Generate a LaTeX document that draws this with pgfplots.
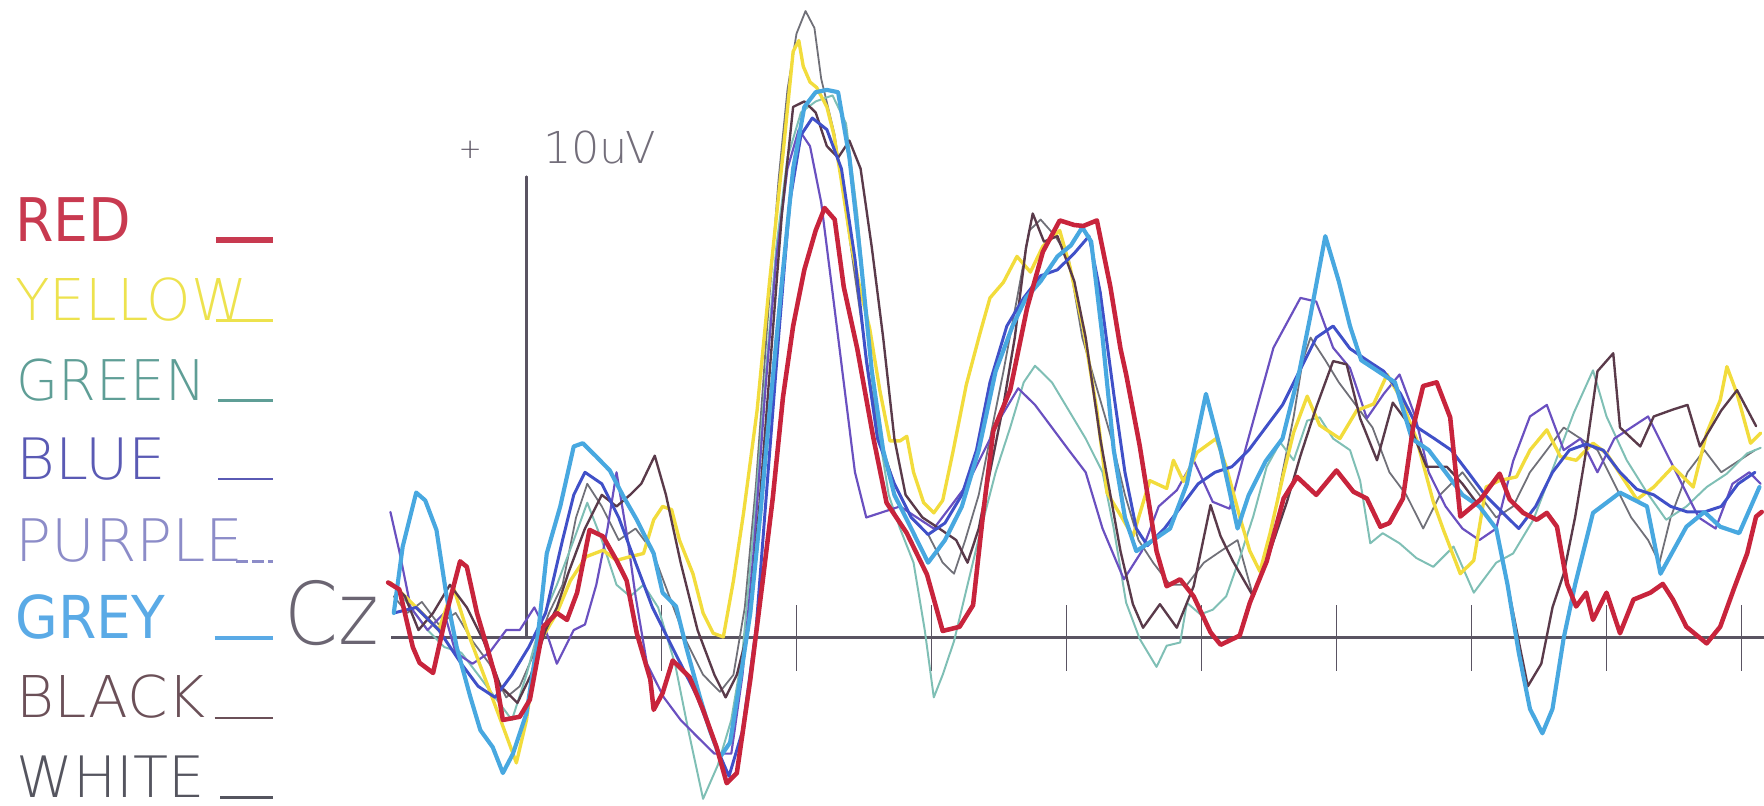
\documentclass[border=0pt]{standalone}
\usepackage{fontspec}
\usepackage{graphicx}
\usepackage{pgfplots}
\usepackage{pgfplotstable}
\pgfplotsset{compat=1.18}

\newfontfamily\thinfont{DejaVu Sans ExtraLight}
\newfontfamily\regfont{DejaVu Sans}

% trace colours
\definecolor{cRed}{HTML}{C8243C}
\definecolor{cYellow}{HTML}{F2DC3C}
\definecolor{cGreen}{HTML}{7FBFB5}
\definecolor{cBlue}{HTML}{4050C8}
\definecolor{cPurple}{HTML}{6A50C0}
\definecolor{cGrey}{HTML}{48A8E0}
\definecolor{cBlack}{HTML}{5A3A4A}
\definecolor{cWhite}{HTML}{707078}
% legend text colours
\definecolor{tRed}{HTML}{C83A50}
\definecolor{tYellow}{HTML}{EDE24E}
\definecolor{tGreen}{HTML}{5F9E96}
\definecolor{tBlue}{HTML}{5A5AB4}
\definecolor{tPurple}{HTML}{8C8CC8}
\definecolor{tGrey}{HTML}{5AAAE6}
\definecolor{tBlack}{HTML}{6B5058}
\definecolor{tWhite}{HTML}{55555F}
\definecolor{axisgrey}{HTML}{5A5462}

% Cz averages: time (ms) versus amplitude (uV)
\pgfplotstableread{
x y
-102.5 1.20
-94.2 1.05
-84.2 -0.20
-79.2 -0.54
-69.2 -0.76
-59.2 0.54
-49.2 1.66
-44.2 1.54
-36.7 0.54
-29.2 -0.20
-22.5 -0.90
-17.5 -1.78
-5 -1.71
2.5 -1.34
7.5 -0.54
12.5 0.24
22.5 0.54
30 0.39
37.5 0.98
46.7 2.34
56.7 2.20
66.7 1.68
74.2 1.24
81.7 0.10
91.7 -0.90
94.2 -1.56
100.8 -1.20
108.3 -0.49
120.8 -0.85
130.8 -1.56
140.8 -2.37
148.3 -3.15
155.8 -2.93
165.8 -0.90
175 1.24
182.5 3.05
190 5.22
197.5 6.76
205.8 7.98
214.2 8.83
220.8 9.32
228.3 9.07
235 7.61
245 6.27
256.7 4.37
266.7 2.93
281.7 2.27
296.7 1.37
308.3 0.15
320.8 0.24
330.8 0.71
338.3 2.71
345.8 4.49
358.3 5.37
370.8 7.15
382.5 8.37
395 9.05
405.8 8.95
412.5 8.93
422.5 9.05
432.5 7.61
440 6.27
444.2 5.71
454.2 4.17
466.7 1.88
474.2 1.12
484.2 1.27
494.2 0.90
506.7 0.12
514.2 -0.15
528.3 0.05
535.8 0.76
548.3 1.66
560.8 3.02
570.8 3.49
585 3.10
600 3.63
612.5 3.17
622.5 3.02
632.5 2.41
639.2 2.49
649.2 3.02
656.7 4.56
664.2 5.46
674.2 5.54
684.2 4.78
691.7 2.63
706.7 3.00
720.8 3.56
728.3 3.00
738.3 2.71
748.3 2.56
755.8 2.71
763.3 2.41
770.8 1.17
777.5 0.68
785 0.98
790 0.39
800 0.98
810 0.10
820 0.83
832.5 0.98
841.7 1.17
849.2 0.83
859.2 0.24
874.2 -0.12
884.2 0.24
894.2 1.05
904.2 1.83
910.8 2.63
915 2.73
}\redtab

\pgfplotstableread{
x y
-100.8 1.20
-90 0.90
-77.5 0.54
-65 0.17
-54.2 1.10
-44.2 0.17
-31.7 -0.80
-19.2 -1.78
-7.5 -2.71
0 -1.78
7.5 -0.20
22.5 0.54
32.5 1.24
44.2 1.76
56.7 1.90
66.7 1.68
76.7 1.76
86.7 1.83
94.2 2.56
100.8 2.85
107.5 2.78
113.3 2.12
123.3 1.39
130.8 0.54
138.3 0.10
145.8 0.02
153.3 1.24
160.8 2.71
170.8 4.93
180 7.71
190 10.49
197.5 12.71
201.7 12.95
205 12.39
210 12.05
215 11.93
222.5 11.51
227.5 10.93
232.5 10.05
240 8.61
246.7 7.61
254.2 6.71
261.7 5.37
269.2 4.27
276.7 4.27
281.7 4.37
286.7 3.59
294.2 2.93
301.7 2.71
308.3 2.98
315.8 4.02
325.8 5.49
335.8 6.59
343.3 7.37
353.3 7.71
363.3 8.27
373.3 7.93
382.5 8.49
395 8.83
402.5 8.05
412.5 6.71
422.5 4.93
430 3.15
440 2.66
449.2 2.20
461.7 3.41
474.2 3.24
479.2 3.85
486.7 3.39
496.7 4.02
510.8 4.32
518.3 3.71
528.3 2.63
535.8 1.88
543.3 1.44
550.8 2.27
560.8 3.56
568.3 4.46
578.3 5.24
587.5 4.61
602.5 4.32
615 4.93
627.5 5.07
637.5 5.71
646.7 5.24
659.2 4.32
671.7 2.95
679.2 2.34
691.7 1.39
701.7 1.68
710.8 3.27
720.8 3.41
733.3 3.49
743.3 4.07
755.8 4.51
765.8 3.93
777.5 3.85
790 4.22
800 4.00
810 3.56
822.5 3.00
835 3.27
849.2 3.71
864.2 3.27
874.2 4.44
884.2 5.15
889.2 5.88
896.7 5.29
906.7 4.22
914.2 4.44
}\yellowtab

\pgfplotstableread{
x y
-98.3 1.15
-85.8 0.66
-73.3 0.17
-60.8 -0.20
-48.3 -0.32
-35.8 -0.80
-23.3 -1.29
-10.8 -1.78
0 -0.80
10 0.29
22.5 1.15
35 2.12
45 2.93
55.8 2.12
66.7 1.15
76.7 0.90
86.7 1.15
97.5 0.66
110 -0.56
120 -2.02
130.8 -3.49
141.7 -2.76
151.7 -1.78
160 -0.32
168.3 2.37
176.7 5.54
185 8.46
193.3 10.41
203.3 11.39
214.2 11.63
226.7 11.76
236.7 11.15
245 9.20
253.3 6.51
261.7 4.32
268.3 3.10
276.7 2.37
286.7 1.63
295 0.17
301.7 -1.29
308.3 -0.80
316.7 -0.07
326.7 1.15
336.7 2.37
347.5 3.59
358.3 4.56
368.3 5.54
376.7 5.90
389.2 5.54
401.7 4.93
414.2 4.32
426.7 3.59
435 2.37
444.2 0.76
454.2 -0.02
466.7 -0.63
474.2 -0.17
484.2 -0.10
489.2 0.76
499.2 0.51
508.3 0.61
518.3 0.90
528.3 1.73
538.3 2.63
548.3 3.71
558.3 4.24
568.3 3.85
578.3 4.71
587.5 4.78
597.5 4.32
610 4.07
617.5 3.41
625 2.05
634.2 2.27
646.7 2.05
659.2 1.73
671.7 1.54
686.7 1.98
701.7 0.98
718.3 1.63
730.8 1.83
745.8 2.56
760.8 3.71
775.8 4.88
790 5.80
800 4.80
815 3.85
830 3.15
844.2 2.56
859.2 2.85
874.2 3.27
889.2 3.56
904.2 4.00
914.2 4.12
}\greentab

\pgfplotstableread{
x y
-98.3 0.54
-81.7 0.66
-65 0.17
-48.3 -0.56
-35.8 -1.05
-23.3 -1.29
-10.8 -0.80
1.7 -0.20
14.2 0.54
26.7 2.12
35 3.10
43.3 3.59
55.8 3.34
68.3 2.61
80.8 1.63
93.3 0.66
110 -0.32
126.7 -1.29
139.2 -2.27
150 -3.00
160 -2.02
170 0.17
178.3 3.34
186.7 6.51
195 9.44
203.3 10.90
211.7 11.27
222.5 11.02
233.3 10.17
243.3 8.22
251.7 6.02
260 4.32
272.5 3.34
285 2.61
297.5 2.24
310 2.49
322.5 3.10
333.3 4.07
343.3 5.54
355.8 6.76
368.3 7.37
380.8 7.85
393.3 7.98
405.8 8.34
416.7 8.71
425 7.49
435 5.29
443.3 3.59
451.7 2.37
460 2.00
472.5 2.37
485 2.85
497.5 3.34
510 3.59
522.5 3.71
535 4.07
547.5 4.56
560 5.05
572.5 5.78
585 6.51
597.5 6.76
610 6.27
622.5 6.02
635 5.78
647.5 5.29
660 4.56
672.5 4.32
685 4.07
697.5 3.59
710 3.10
722.5 2.73
735 2.37
747.5 2.85
760 3.59
772.5 4.07
785 4.20
797.5 4.07
810 3.59
822.5 3.22
835 3.10
847.5 2.85
860 2.73
872.5 2.73
885 2.85
897.5 3.34
910 3.59
}\bluetab

\pgfplotstableread{
x y
-100.8 2.73
-94.2 1.88
-85.8 0.66
-73.3 0.17
-60.8 0.54
-52.5 -0.32
-40 -0.56
-27.5 -0.32
-15 0.17
-5 0.17
5.8 0.66
14.2 0.17
22.5 -0.56
35 0.17
43.3 0.29
51.7 1.15
60 2.37
66.7 3.59
75 2.12
80.8 0.90
89.2 -0.56
101.7 -1.29
114.2 -1.78
126.7 -2.15
139.2 -2.51
151.7 -2.51
160 -0.80
168.3 1.88
176.7 5.29
185 8.22
193.3 10.17
201.7 11.02
210 10.66
218.3 9.44
226.7 7.49
235 5.54
243.3 3.59
251.7 2.61
264.2 2.73
276.7 2.85
289.2 2.61
301.7 2.37
314.2 2.85
326.7 3.34
339.2 4.07
351.7 4.80
364.2 5.41
376.7 5.05
389.2 4.56
401.7 4.07
414.2 3.59
426.7 2.37
442.5 1.27
455.8 1.88
468.3 2.85
481.7 3.20
494.2 3.85
508.3 2.95
520.8 2.80
533.3 4.17
553.3 6.29
573.3 7.37
585 7.29
597.5 6.29
610 5.85
622.5 4.76
635 5.29
646.7 5.71
658.3 4.80
668.3 3.59
680.8 2.85
693.3 2.37
705.8 2.12
718.3 2.37
730.8 3.83
743.3 4.80
755.8 5.05
768.3 4.07
780.8 4.32
793.3 3.59
805.8 4.32
818.3 4.56
830.8 4.80
843.3 4.07
855.8 3.34
868.3 2.61
880.8 2.37
893.3 3.34
905.8 3.59
914.2 3.34
}\purpletab

\pgfplotstableread{
x y
-98.3 0.54
-91.7 1.98
-81.7 3.15
-75 2.98
-66.7 2.34
-59.2 0.90
-51.7 -0.20
-41.7 -1.27
-34.2 -2.00
-25 -2.37
-17.5 -2.93
-10 -2.51
0 -1.63
7.5 -0.20
15 1.83
25 2.85
35 4.15
41.7 4.22
51.7 3.93
61.7 3.63
71.7 3.07
81.7 2.56
94.2 1.83
100.8 0.98
110.8 0.68
118.3 -0.20
128.3 -1.27
135.8 -2.00
143.3 -2.59
150.8 -2.27
158.3 -0.90
165.8 0.54
173.3 2.71
180 4.88
189.2 7.73
197.5 10.17
205.8 11.51
214.2 11.83
222.5 11.88
230.8 11.83
239.2 10.41
247.5 8.22
255.8 5.78
264.2 4.07
272.5 3.10
285 2.37
297.5 1.63
310 2.12
322.5 2.85
335 4.07
347.5 5.78
360 6.76
370 7.37
380.8 7.73
393.3 8.27
403.3 8.51
411.7 8.90
418.3 8.59
426.7 6.51
435 4.07
443.3 2.61
451.7 1.88
464.2 2.12
476.7 2.37
489.2 3.34
503.3 5.29
514.2 4.07
526.7 2.37
535 3.10
547.5 3.83
560 4.32
572.5 5.78
580.8 7.00
591.7 8.71
601.7 7.73
610 6.76
618.3 6.02
630.8 5.78
643.3 5.54
655.8 4.32
668.3 4.07
680.8 3.59
693.3 3.10
705.8 2.85
718.3 2.37
726.7 1.15
735 -0.32
743.3 -1.54
752.5 -2.07
760 -1.54
768.3 0
776.7 1.15
790 2.71
810 3.15
830 2.85
840 1.39
859.2 2.41
872.5 2.73
884.2 2.41
898.3 2.27
913.3 3.27
}\greytab

\pgfplotstableread{
x y
-98.3 1.15
-90 0.90
-80 0.17
-69.2 0.54
-56.7 1.15
-44.2 0.66
-31.7 -0.07
-19.2 -1.05
-6.7 -1.41
3.3 -0.80
14.2 0.17
22.5 0.66
30.8 1.39
43.3 2.37
55.8 3.10
66.7 2.85
76.7 3.10
85 3.34
95 3.95
103.3 3.10
114.2 1.63
126.7 0.17
139.2 -0.80
147.5 -1.29
155.8 -0.80
164.2 0.17
172.5 2.85
180.8 6.02
189.2 9.20
197.5 11.51
205.8 11.63
214.2 11.39
222.5 10.66
230.8 10.41
239.2 10.78
247.5 10.17
255.8 8.46
264.2 6.51
272.5 4.32
280.8 3.10
293.3 2.61
305.8 2.37
318.3 2.12
326.7 1.63
335 2.37
343.3 3.59
353.3 5.05
361.7 6.51
370 8.46
375 9.20
383.3 8.59
393.3 8.71
405.8 7.73
414.2 6.51
425 4.32
440 1.88
449.2 0.73
456.7 0.22
469.2 0.73
481.7 0.22
494.2 1.12
506.7 2.88
514.2 2.20
523.3 1.66
538.3 0.90
550.8 1.88
563.3 2.95
573.3 3.95
585 5.00
597.5 6.00
607.5 5.93
617.5 4.76
630 3.85
641.7 5.10
654.2 4.61
666.7 3.71
681.7 3.71
693.3 3.34
705.8 2.85
718.3 2.37
726.7 1.15
735 -0.07
741.7 -1.05
751.7 -0.56
760 0.66
768.3 1.39
776.7 2.61
785 4.07
793.3 5.78
805 6.17
810 4.56
825 4.15
835 4.80
849.2 4.95
860 5.05
869.2 4.15
885 4.93
896.7 5.37
910.8 4.59
}\blacktab

\pgfplotstableread{
x y
-98.3 0.90
-88.3 0.54
-77.5 0.78
-65 0.29
-52.5 0.54
-40 -0.07
-27.5 -0.56
-15 -1.29
-5 -1.05
5.8 -0.32
16.7 0.54
26.7 1.15
36.7 2.61
45 3.34
55.8 2.85
68.3 2.12
80.8 2.37
93.3 1.88
105.8 0.90
118.3 -0.07
130.8 -0.80
143.3 -1.17
153.3 -0.80
161.7 0.66
170 3.34
178.3 6.76
186.7 9.93
193.3 11.88
200 13.10
206.7 13.59
213.3 13.22
218.3 12.12
228.3 10.90
236.7 9.20
245 7.49
253.3 5.78
261.7 4.32
272.5 3.34
285 2.61
297.5 2.24
308.3 1.63
316.7 1.39
325 2.12
335 3.10
343.3 4.32
353.3 5.78
364.2 7.49
372.5 8.83
380.8 9.07
391.7 8.71
401.7 8.22
411.7 6.51
422.5 5.41
433.3 4.32
443.3 3.10
453.3 2.12
464.2 1.63
476.7 1.15
489.2 1.15
501.7 1.63
514.2 1.88
526.7 2.12
538.3 0.90
547.5 1.63
560 3.59
568.3 4.80
575 6.02
580.8 6.51
591.7 6.02
601.7 5.54
614.2 5.05
626.7 4.56
639.2 3.59
651.7 3.10
664.2 2.37
676.7 3.10
693.3 3.59
705.8 3.10
718.3 2.61
730.8 2.85
743.3 3.59
755.8 4.07
768.3 4.56
780.8 4.32
793.3 4.07
805.8 3.34
818.3 2.61
830.8 2.12
839.2 1.63
847.5 2.61
860 3.59
872.5 4.07
885 3.59
897.5 3.83
910 4.07
}\whitetab

\begin{document}
\begin{tikzpicture}
\begin{axis}[
  scale only axis, width=12.20cm, height=7.16cm,
  xmin=-100, xmax=916.67, ymin=-3.634, ymax=13.829,
  axis x line=middle, axis y line=none,
  axis line style={draw=axisgrey, line width=0.7pt, -},
  xtick={100,200,...,900}, xticklabels={}, ytick=\empty,
  tick align=center, major tick length=0.58cm,
  xtick style={draw=axisgrey, line width=0.45pt},
  clip=false,
  every axis plot/.append style={line join=round, line cap=round},
]
% calibration bar: 10 uV at stimulus onset
\addplot[draw=axisgrey, line width=0.6pt] coordinates {(0,0) (0,10)};
\node[text=axisgrey, inner sep=0pt] at (axis cs:-41.7,10.58) {\thinfont\fontsize{7}{7}\selectfont +};
\node[anchor=base west, inner sep=0pt, text=axisgrey!85] at (axis cs:11.7,10.29)
  {\resizebox{10mm}{2.9mm}{\thinfont 10uV}};

% averaged waveforms
\addplot[draw=cWhite, line width=0.45pt] table[x=x, y=y] {\whitetab};
\addplot[draw=cGreen, line width=0.5pt] table[x=x, y=y] {\greentab};
\addplot[draw=cPurple, line width=0.55pt] table[x=x, y=y] {\purpletab};
\addplot[draw=cYellow, line width=0.85pt] table[x=x, y=y] {\yellowtab};
\addplot[draw=cBlack, line width=0.6pt] table[x=x, y=y] {\blacktab};
\addplot[draw=cBlue, line width=0.75pt] table[x=x, y=y] {\bluetab};
\addplot[draw=cGrey, line width=1.05pt] table[x=x, y=y] {\greytab};
\addplot[draw=cRed, line width=1.15pt] table[x=x, y=y] {\redtab};

% electrode name
\node[anchor=base west, inner sep=0pt, text=axisgrey!90] at (axis cs:-180,-0.15)
  {\resizebox{8.4mm}{5.7mm}{\thinfont Cz}};

% colour key
\node[anchor=base west, inner sep=0pt, text=tRed] at (axis cs:-379.2,8.585)
  {\resizebox{10.3mm}{3.9mm}{\regfont RED}};
\node[anchor=base west, inner sep=0pt, text=tYellow] at (axis cs:-379.2,6.878)
  {\resizebox{20.6mm}{3.8mm}{\thinfont YELLOW}};
\node[anchor=base west, inner sep=0pt, text=tGreen] at (axis cs:-378.3,5.146)
  {\resizebox{16.8mm}{3.7mm}{\thinfont GREEN}};
\node[anchor=base west, inner sep=0pt, text=tBlue] at (axis cs:-378.3,3.439)
  {\resizebox{13.3mm}{3.7mm}{\thinfont BLUE}};
\node[anchor=base west, inner sep=0pt, text=tPurple] at (axis cs:-379.2,1.659)
  {\resizebox{20.3mm}{3.8mm}{\thinfont PURPLE}};
\node[anchor=base west, inner sep=0pt, text=tGrey] at (axis cs:-379.2,-0.024)
  {\resizebox{13.3mm}{3.9mm}{\regfont GREY}};
\node[anchor=base west, inner sep=0pt, text=tBlack] at (axis cs:-378.3,-1.732)
  {\resizebox{16.8mm}{3.8mm}{\thinfont BLACK}};
\node[anchor=base west, inner sep=0pt, text=tWhite] at (axis cs:-378.3,-3.463)
  {\resizebox{16.7mm}{3.7mm}{\thinfont WHITE}};

\draw[tRed, line width=1.4pt] (axis cs:-230,8.63) -- (axis cs:-187.5,8.63);
\draw[tYellow, line width=0.6pt] (axis cs:-230,6.878) -- (axis cs:-187.5,6.878);
\draw[tGreen, line width=0.6pt] (axis cs:-228.3,5.146) -- (axis cs:-187.5,5.146);
\draw[tBlue, line width=0.6pt] (axis cs:-228.3,3.439) -- (axis cs:-187.5,3.439);
\draw[tPurple, line width=0.6pt, dash pattern=on 3pt off 1pt] (axis cs:-215,1.659) -- (axis cs:-187.5,1.659);
\draw[tGrey, line width=1.1pt] (axis cs:-231,0.0) -- (axis cs:-188,0.0);
\draw[tBlack, line width=0.6pt] (axis cs:-231,-1.732) -- (axis cs:-188,-1.732);
\draw[tWhite, line width=0.6pt] (axis cs:-226.7,-3.463) -- (axis cs:-188,-3.463);
\end{axis}
\pgfresetboundingbox
\useasboundingbox ([xshift=-3.48cm]current axis.south west) rectangle (current axis.north east);
\end{tikzpicture}
\end{document}
